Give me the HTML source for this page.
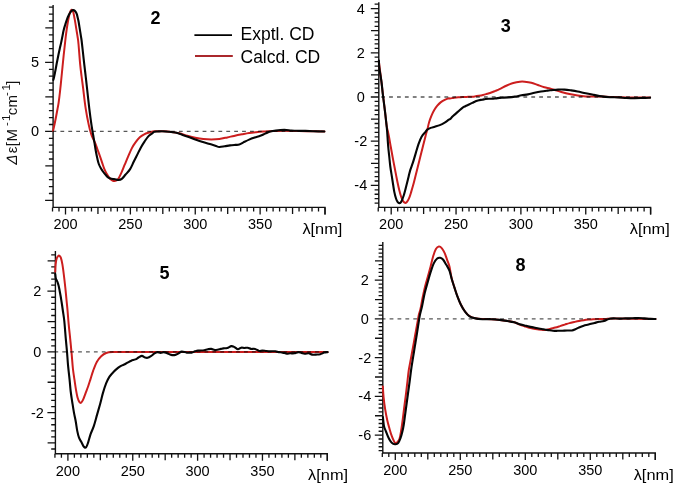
<!DOCTYPE html>
<html><head><meta charset="utf-8"><style>
html,body{margin:0;padding:0;background:#fff;}
svg{display:block;} text{-webkit-font-smoothing:antialiased;}
.t{font-family:"Liberation Sans", sans-serif;font-size:14.5px;fill:#000;}
.b{font-family:"Liberation Sans", sans-serif;font-size:18px;font-weight:bold;fill:#000;}
.l{font-family:"Liberation Sans", sans-serif;font-size:17.5px;fill:#000;}
.y{font-family:"Liberation Sans", sans-serif;font-size:15px;fill:#111;}
</style></head><body>
<svg width="675" height="485" viewBox="0 0 675 485" style="will-change:transform">
<rect width="675" height="485" fill="#fff"/>
<path d="M53.1 4.9V207.4H325V214.4" fill="none" stroke="#111" stroke-width="1.4"/>
<path d="M45.1 200.4H53.1M48.9 193.5H53.1M48.9 186.6H53.1M48.9 179.7H53.1M48.9 172.8H53.1M45.3 165.9H53.1M48.9 159H53.1M48.9 152.1H53.1M48.9 145.2H53.1M48.9 138.3H53.1M45.1 131.4H53.1M48.9 124.5H53.1M48.9 117.6H53.1M48.9 110.7H53.1M48.9 103.8H53.1M45.3 96.9H53.1M48.9 90H53.1M48.9 83.1H53.1M48.9 76.2H53.1M48.9 69.3H53.1M45.1 62.4H53.1M48.9 55.5H53.1M48.9 48.6H53.1M48.9 41.7H53.1M48.9 34.8H53.1M45.3 27.9H53.1M48.9 21H53.1M48.9 14.1H53.1M48.9 7.2H53.1M52.52 207.4V211.4M59.01 207.4V211.4M65.5 207.4V214.4M71.99 207.4V211.4M78.47 207.4V211.4M84.96 207.4V211.4M91.45 207.4V211.4M97.94 207.4V213.9M104.43 207.4V211.4M110.91 207.4V211.4M117.4 207.4V211.4M123.89 207.4V211.4M130.38 207.4V214.4M136.86 207.4V211.4M143.35 207.4V211.4M149.84 207.4V211.4M156.32 207.4V211.4M162.81 207.4V213.9M169.3 207.4V211.4M175.79 207.4V211.4M182.28 207.4V211.4M188.76 207.4V211.4M195.25 207.4V214.4M201.74 207.4V211.4M208.23 207.4V211.4M214.71 207.4V211.4M221.2 207.4V211.4M227.69 207.4V213.9M234.18 207.4V211.4M240.66 207.4V211.4M247.15 207.4V211.4M253.64 207.4V211.4M260.12 207.4V214.4M266.61 207.4V211.4M273.1 207.4V211.4M279.59 207.4V211.4M286.08 207.4V211.4M292.56 207.4V213.9M299.05 207.4V211.4M305.54 207.4V211.4M312.02 207.4V211.4M318.51 207.4V211.4M325 207.4V214.4" fill="none" stroke="#111" stroke-width="1.3"/>
<text x="35.1" y="136.3" text-anchor="middle" class="t">0</text>
<text x="35.1" y="67.3" text-anchor="middle" class="t">5</text>
<text x="65.5" y="229.4" text-anchor="middle" class="t">200</text>
<text x="130.38" y="229.4" text-anchor="middle" class="t">250</text>
<text x="195.25" y="229.4" text-anchor="middle" class="t">300</text>
<text x="260.12" y="229.4" text-anchor="middle" class="t">350</text>
<text x="302.4" y="233.9" class="t" textLength="40" lengthAdjust="spacingAndGlyphs">λ[nm]</text>
<text x="155.4" y="23.8" text-anchor="middle" class="b">2</text>
<path d="M378.8 2.2V207.4H650.6V214.4" fill="none" stroke="#111" stroke-width="1.4"/>
<path d="M374.6 203.08H378.8M374.6 198.66H378.8M374.6 194.24H378.8M374.6 189.82H378.8M370.8 185.4H378.8M374.6 180.98H378.8M374.6 176.56H378.8M374.6 172.14H378.8M374.6 167.72H378.8M371 163.3H378.8M374.6 158.88H378.8M374.6 154.46H378.8M374.6 150.04H378.8M374.6 145.62H378.8M370.8 141.2H378.8M374.6 136.78H378.8M374.6 132.36H378.8M374.6 127.94H378.8M374.6 123.52H378.8M371 119.1H378.8M374.6 114.68H378.8M374.6 110.26H378.8M374.6 105.84H378.8M374.6 101.42H378.8M370.8 97H378.8M374.6 92.58H378.8M374.6 88.16H378.8M374.6 83.74H378.8M374.6 79.32H378.8M371 74.9H378.8M374.6 70.48H378.8M374.6 66.06H378.8M374.6 61.64H378.8M374.6 57.22H378.8M370.8 52.8H378.8M374.6 48.38H378.8M374.6 43.96H378.8M374.6 39.54H378.8M374.6 35.12H378.8M371 30.7H378.8M374.6 26.28H378.8M374.6 21.86H378.8M374.6 17.44H378.8M374.6 13.02H378.8M370.8 8.6H378.8M374.6 4.18H378.8M378.23 207.4V211.4M384.71 207.4V211.4M391.2 207.4V214.4M397.69 207.4V211.4M404.17 207.4V211.4M410.65 207.4V211.4M417.14 207.4V211.4M423.62 207.4V213.9M430.11 207.4V211.4M436.59 207.4V211.4M443.08 207.4V211.4M449.56 207.4V211.4M456.05 207.4V214.4M462.53 207.4V211.4M469.02 207.4V211.4M475.5 207.4V211.4M481.99 207.4V211.4M488.47 207.4V213.9M494.96 207.4V211.4M501.44 207.4V211.4M507.93 207.4V211.4M514.41 207.4V211.4M520.9 207.4V214.4M527.38 207.4V211.4M533.87 207.4V211.4M540.36 207.4V211.4M546.84 207.4V211.4M553.33 207.4V213.9M559.81 207.4V211.4M566.29 207.4V211.4M572.78 207.4V211.4M579.26 207.4V211.4M585.75 207.4V214.4M592.24 207.4V211.4M598.72 207.4V211.4M605.2 207.4V211.4M611.69 207.4V211.4M618.17 207.4V213.9M624.66 207.4V211.4M631.14 207.4V211.4M637.63 207.4V211.4M644.12 207.4V211.4M650.6 207.4V214.4" fill="none" stroke="#111" stroke-width="1.3"/>
<text x="360.8" y="190.3" text-anchor="middle" class="t">-4</text>
<text x="360.8" y="146.1" text-anchor="middle" class="t">-2</text>
<text x="360.8" y="101.9" text-anchor="middle" class="t">0</text>
<text x="360.8" y="57.7" text-anchor="middle" class="t">2</text>
<text x="360.8" y="13.5" text-anchor="middle" class="t">4</text>
<text x="391.2" y="229.4" text-anchor="middle" class="t">200</text>
<text x="456.05" y="229.4" text-anchor="middle" class="t">250</text>
<text x="520.9" y="229.4" text-anchor="middle" class="t">300</text>
<text x="585.75" y="229.4" text-anchor="middle" class="t">350</text>
<text x="629.8" y="233.9" class="t" textLength="40" lengthAdjust="spacingAndGlyphs">λ[nm]</text>
<text x="505.7" y="31.6" text-anchor="middle" class="b">3</text>
<path d="M55.4 251.1V453.8H327.3V460.8" fill="none" stroke="#111" stroke-width="1.4"/>
<path d="M51.2 449.02H55.4M47.6 442.95H55.4M51.2 436.88H55.4M51.2 430.81H55.4M51.2 424.74H55.4M51.2 418.67H55.4M47.4 412.6H55.4M51.2 406.53H55.4M51.2 400.46H55.4M51.2 394.39H55.4M51.2 388.32H55.4M47.6 382.25H55.4M51.2 376.18H55.4M51.2 370.11H55.4M51.2 364.04H55.4M51.2 357.97H55.4M47.4 351.9H55.4M51.2 345.83H55.4M51.2 339.76H55.4M51.2 333.69H55.4M51.2 327.62H55.4M47.6 321.55H55.4M51.2 315.48H55.4M51.2 309.41H55.4M51.2 303.34H55.4M51.2 297.27H55.4M47.4 291.2H55.4M51.2 285.13H55.4M51.2 279.06H55.4M51.2 272.99H55.4M51.2 266.92H55.4M47.6 260.85H55.4M51.2 254.78H55.4M54.93 453.8V457.8M61.42 453.8V457.8M67.9 453.8V460.8M74.39 453.8V457.8M80.87 453.8V457.8M87.36 453.8V457.8M93.84 453.8V457.8M100.33 453.8V460.3M106.81 453.8V457.8M113.3 453.8V457.8M119.78 453.8V457.8M126.27 453.8V457.8M132.75 453.8V460.8M139.24 453.8V457.8M145.72 453.8V457.8M152.2 453.8V457.8M158.69 453.8V457.8M165.18 453.8V460.3M171.66 453.8V457.8M178.14 453.8V457.8M184.63 453.8V457.8M191.12 453.8V457.8M197.6 453.8V460.8M204.09 453.8V457.8M210.57 453.8V457.8M217.06 453.8V457.8M223.54 453.8V457.8M230.03 453.8V460.3M236.51 453.8V457.8M243 453.8V457.8M249.48 453.8V457.8M255.97 453.8V457.8M262.45 453.8V460.8M268.94 453.8V457.8M275.42 453.8V457.8M281.9 453.8V457.8M288.39 453.8V457.8M294.88 453.8V460.3M301.36 453.8V457.8M307.85 453.8V457.8M314.33 453.8V457.8M320.81 453.8V457.8M327.3 453.8V460.8" fill="none" stroke="#111" stroke-width="1.3"/>
<text x="37.4" y="417.5" text-anchor="middle" class="t">-2</text>
<text x="37.4" y="356.8" text-anchor="middle" class="t">0</text>
<text x="37.4" y="296.1" text-anchor="middle" class="t">2</text>
<text x="67.9" y="475.8" text-anchor="middle" class="t">200</text>
<text x="132.75" y="475.8" text-anchor="middle" class="t">250</text>
<text x="197.6" y="475.8" text-anchor="middle" class="t">300</text>
<text x="262.45" y="475.8" text-anchor="middle" class="t">350</text>
<text x="308.1" y="480.3" class="t" textLength="40" lengthAdjust="spacingAndGlyphs">λ[nm]</text>
<text x="164.5" y="279.2" text-anchor="middle" class="b">5</text>
<path d="M382.8 241.9V453H655.3V460" fill="none" stroke="#111" stroke-width="1.4"/>
<path d="M378.6 450.62H382.8M378.6 446.74H382.8M378.6 442.87H382.8M378.6 438.99H382.8M374.8 435.12H382.8M378.6 431.25H382.8M378.6 427.37H382.8M378.6 423.5H382.8M378.6 419.62H382.8M375 415.75H382.8M378.6 411.88H382.8M378.6 408H382.8M378.6 404.13H382.8M378.6 400.25H382.8M374.8 396.38H382.8M378.6 392.51H382.8M378.6 388.63H382.8M378.6 384.76H382.8M378.6 380.88H382.8M375 377.01H382.8M378.6 373.14H382.8M378.6 369.26H382.8M378.6 365.39H382.8M378.6 361.51H382.8M374.8 357.64H382.8M378.6 353.77H382.8M378.6 349.89H382.8M378.6 346.02H382.8M378.6 342.14H382.8M375 338.27H382.8M378.6 334.4H382.8M378.6 330.52H382.8M378.6 326.65H382.8M378.6 322.77H382.8M374.8 318.9H382.8M378.6 315.03H382.8M378.6 311.15H382.8M378.6 307.28H382.8M378.6 303.4H382.8M375 299.53H382.8M378.6 295.66H382.8M378.6 291.78H382.8M378.6 287.91H382.8M378.6 284.03H382.8M374.8 280.16H382.8M378.6 276.29H382.8M378.6 272.41H382.8M378.6 268.54H382.8M378.6 264.66H382.8M375 260.79H382.8M378.6 256.92H382.8M378.6 253.04H382.8M378.6 249.17H382.8M378.6 245.29H382.8M382.3 453V457M388.8 453V457M395.3 453V460M401.8 453V457M408.3 453V457M414.8 453V457M421.3 453V457M427.8 453V459.5M434.3 453V457M440.8 453V457M447.3 453V457M453.8 453V457M460.3 453V460M466.8 453V457M473.3 453V457M479.8 453V457M486.3 453V457M492.8 453V459.5M499.3 453V457M505.8 453V457M512.3 453V457M518.8 453V457M525.3 453V460M531.8 453V457M538.3 453V457M544.8 453V457M551.3 453V457M557.8 453V459.5M564.3 453V457M570.8 453V457M577.3 453V457M583.8 453V457M590.3 453V460M596.8 453V457M603.3 453V457M609.8 453V457M616.3 453V457M622.8 453V459.5M629.3 453V457M635.8 453V457M642.3 453V457M648.8 453V457M655.3 453V460" fill="none" stroke="#111" stroke-width="1.3"/>
<text x="364.8" y="440.02" text-anchor="middle" class="t">-6</text>
<text x="364.8" y="401.28" text-anchor="middle" class="t">-4</text>
<text x="364.8" y="362.54" text-anchor="middle" class="t">-2</text>
<text x="364.8" y="323.8" text-anchor="middle" class="t">0</text>
<text x="364.8" y="285.06" text-anchor="middle" class="t">2</text>
<text x="395.3" y="475" text-anchor="middle" class="t">200</text>
<text x="460.3" y="475" text-anchor="middle" class="t">250</text>
<text x="525.3" y="475" text-anchor="middle" class="t">300</text>
<text x="590.3" y="475" text-anchor="middle" class="t">350</text>
<text x="633.7" y="479.5" class="t" textLength="40" lengthAdjust="spacingAndGlyphs">λ[nm]</text>
<text x="520.6" y="270.7" text-anchor="middle" class="b">8</text>
<path d="M53.1 130.8C53.35 129.67 54.08 126.47 54.6 124C55.12 121.53 55.72 118.5 56.2 116C56.68 113.5 57.1 111.18 57.5 109C57.9 106.82 58.2 105.65 58.6 102.9C59 100.15 59.45 96.48 59.9 92.5C60.35 88.52 60.87 83.25 61.3 79C61.73 74.75 62.12 70.83 62.5 67C62.88 63.17 63.23 59.5 63.6 56C63.97 52.5 64.35 49.17 64.7 46C65.05 42.83 65.38 39.67 65.7 37C66.02 34.33 66.28 32.25 66.6 30C66.92 27.75 67.27 25.5 67.6 23.5C67.93 21.5 68.27 19.62 68.6 18C68.93 16.38 69.27 14.97 69.6 13.8C69.93 12.63 70.27 11.67 70.6 11C70.93 10.33 71.23 9.85 71.6 9.8C71.97 9.75 72.47 10.08 72.8 10.7C73.13 11.32 73.33 12.33 73.6 13.5C73.87 14.67 74.12 16.18 74.4 17.7C74.68 19.22 75.02 20.95 75.3 22.6C75.58 24.25 75.83 25.95 76.1 27.6C76.37 29.25 76.63 30.85 76.9 32.5C77.17 34.15 77.43 35.58 77.7 37.5C77.97 39.42 78.08 39.47 78.5 44C78.92 48.53 79.68 59.28 80.2 64.7C80.72 70.12 81.12 72.62 81.6 76.5C82.08 80.38 82.42 82.65 83.1 88C83.78 93.35 84.75 102.42 85.7 108.6C86.65 114.78 87.87 120.8 88.8 125.1C89.73 129.4 90.55 132.08 91.3 134.4C92.05 136.72 92.62 137.47 93.3 139C93.98 140.53 94.68 141.8 95.4 143.6C96.12 145.4 96.85 147.72 97.6 149.8C98.35 151.88 99.13 153.92 99.9 156.1C100.67 158.28 101.45 160.73 102.2 162.9C102.95 165.07 103.55 167.12 104.4 169.1C105.25 171.08 106.35 173.18 107.3 174.8C108.25 176.42 109.17 177.8 110.1 178.8C111.03 179.8 112.05 180.47 112.9 180.8C113.75 181.13 114.35 181.05 115.2 180.8C116.05 180.55 117.02 180.53 118 179.3C118.98 178.07 119.98 175.83 121.1 173.4C122.22 170.97 123.5 167.58 124.7 164.7C125.9 161.82 127.1 158.87 128.3 156.1C129.5 153.33 130.7 150.38 131.9 148.1C133.1 145.82 134.18 144.2 135.5 142.4C136.82 140.6 138.35 138.63 139.8 137.3C141.25 135.97 142.75 135.17 144.2 134.4C145.65 133.63 147.07 133.18 148.5 132.7C149.93 132.22 151.67 131.73 152.8 131.5C153.93 131.27 153.55 131.33 155.3 131.3C157.05 131.27 160.63 131.2 163.3 131.3C165.97 131.4 168.63 131.57 171.3 131.9C173.97 132.23 176.63 132.67 179.3 133.3C181.97 133.93 184.63 134.97 187.3 135.7C189.97 136.43 192.63 137.15 195.3 137.7C197.97 138.25 200.63 138.72 203.3 139C205.97 139.28 208.63 139.4 211.3 139.4C213.97 139.4 216.63 139.33 219.3 139C221.97 138.67 224.85 137.92 227.3 137.4C229.75 136.88 231.55 136.42 234 135.9C236.45 135.38 239.48 134.78 242 134.3C244.52 133.82 246.75 133.35 249.1 133C251.45 132.65 253.77 132.43 256.1 132.2C258.43 131.97 260.75 131.77 263.1 131.6C265.45 131.43 267.85 131.32 270.2 131.2C272.55 131.08 273.68 130.95 277.2 130.9C280.72 130.85 286.6 130.85 291.3 130.9C296 130.95 299.88 131.1 305.4 131.2C310.92 131.3 321.23 131.45 324.4 131.5" fill="none" stroke="#cc1e1e" stroke-width="2.0" stroke-linejoin="round" stroke-linecap="round"/>
<path d="M53.3 80C53.45 79.42 53.83 78.17 54.2 76.5C54.57 74.83 55.1 72.08 55.5 70C55.9 67.92 56.27 65.75 56.6 64C56.93 62.25 57.18 61.08 57.5 59.5C57.82 57.92 58.12 56.33 58.5 54.5C58.88 52.67 59.35 50.52 59.8 48.5C60.25 46.48 60.75 44.48 61.2 42.4C61.65 40.32 62.08 38.07 62.5 36C62.92 33.93 63.23 31.92 63.7 30C64.17 28.08 64.77 26.25 65.3 24.5C65.83 22.75 66.32 21.08 66.9 19.5C67.48 17.92 68.17 16.28 68.8 15C69.43 13.72 70.1 12.6 70.7 11.8C71.3 11 71.85 10.47 72.4 10.2C72.95 9.93 73.45 9.92 74 10.2C74.55 10.48 75.22 11.2 75.7 11.9C76.18 12.6 76.57 13.43 76.9 14.4C77.23 15.37 77.42 16.47 77.7 17.7C77.98 18.93 78.32 20.3 78.6 21.8C78.88 23.3 79.13 25.05 79.4 26.7C79.67 28.35 79.93 30.05 80.2 31.7C80.47 33.35 80.77 35.13 81 36.6C81.23 38.07 81.28 37.93 81.6 40.5C81.92 43.07 82.45 47.97 82.9 52C83.35 56.03 83.83 60.62 84.3 64.7C84.77 68.78 85.25 72.62 85.7 76.5C86.15 80.38 86.4 82.65 87 88C87.6 93.35 88.55 102.42 89.3 108.6C90.05 114.78 90.85 120.67 91.5 125.1C92.15 129.53 92.68 132.12 93.2 135.2C93.72 138.28 94.15 140.88 94.6 143.6C95.05 146.32 95.45 149.05 95.9 151.5C96.35 153.95 96.82 156.22 97.3 158.3C97.78 160.38 98.18 162.3 98.8 164C99.42 165.7 100.25 167.17 101 168.5C101.75 169.83 102.53 170.95 103.3 172C104.07 173.05 104.75 173.87 105.6 174.8C106.45 175.73 107.37 176.93 108.4 177.6C109.43 178.27 110.67 178.52 111.8 178.8C112.93 179.08 114.08 179.1 115.2 179.3C116.32 179.5 117.4 180.07 118.5 180C119.6 179.93 120.65 179.77 121.8 178.9C122.95 178.03 124.02 176.43 125.4 174.8C126.78 173.17 128.72 171.27 130.1 169.1C131.48 166.93 132.5 164.22 133.7 161.8C134.9 159.38 136.1 157 137.3 154.6C138.5 152.2 139.7 149.57 140.9 147.4C142.1 145.23 143.3 143.4 144.5 141.6C145.7 139.8 146.88 137.92 148.1 136.6C149.32 135.28 150.77 134.5 151.8 133.7C152.83 132.9 153.27 132.17 154.3 131.8C155.33 131.43 156.72 131.58 158 131.5C159.28 131.42 160.22 131.27 162 131.3C163.78 131.33 166.48 131.48 168.7 131.7C170.92 131.92 173.08 132.1 175.3 132.6C177.52 133.1 179.77 133.97 182 134.7C184.23 135.43 186.48 136.22 188.7 137C190.92 137.78 193.08 138.62 195.3 139.4C197.52 140.18 199.77 140.98 202 141.7C204.23 142.42 206.48 143.03 208.7 143.7C210.92 144.37 213.53 145.15 215.3 145.7C217.07 146.25 217.73 146.9 219.3 147C220.87 147.1 222.92 146.57 224.7 146.3C226.48 146.03 228.23 145.63 230 145.4C231.77 145.17 233.77 145.03 235.3 144.9C236.83 144.77 237.85 145.02 239.2 144.6C240.55 144.18 241.75 143.23 243.4 142.4C245.05 141.57 247.22 140.42 249.1 139.6C250.98 138.78 252.83 138.13 254.7 137.5C256.57 136.87 258.53 136.45 260.3 135.8C262.07 135.15 263.65 134.3 265.3 133.6C266.95 132.9 268.45 132.12 270.2 131.6C271.95 131.08 273.45 130.78 275.8 130.5C278.15 130.22 281.72 129.9 284.3 129.9C286.88 129.9 288.97 130.35 291.3 130.5C293.63 130.65 295.95 130.73 298.3 130.8C300.65 130.87 302.82 130.83 305.4 130.9C307.98 130.97 310.63 131.1 313.8 131.2C316.97 131.3 322.63 131.45 324.4 131.5" fill="none" stroke="#050505" stroke-width="2.1" stroke-linejoin="round" stroke-linecap="round"/>
<path d="M378.9 61.5C379.28 64.58 380.52 74.42 381.2 80C381.88 85.58 382.37 89.75 383 95C383.63 100.25 384.38 106.33 385 111.5C385.62 116.67 386.22 122.67 386.7 126C387.18 129.33 387.47 129.42 387.9 131.5C388.33 133.58 388.83 136 389.3 138.5C389.77 141 390.13 143.33 390.7 146.5C391.27 149.67 392.02 153.83 392.7 157.5C393.38 161.17 394.25 165.65 394.8 168.5C395.35 171.35 395.53 172.22 396 174.6C396.47 176.98 397.05 180.18 397.6 182.8C398.15 185.42 398.75 188.1 399.3 190.3C399.85 192.5 400.35 194.35 400.9 196C401.45 197.65 401.98 199.1 402.6 200.2C403.22 201.3 403.98 202.2 404.6 202.6C405.22 203 405.75 202.93 406.3 202.6C406.85 202.27 407.35 201.55 407.9 200.6C408.45 199.65 409.05 198.35 409.6 196.9C410.15 195.45 410.65 193.7 411.2 191.9C411.75 190.1 412.43 187.75 412.9 186.1C413.37 184.45 413.57 183.68 414 182C414.43 180.32 414.92 178.33 415.5 176C416.08 173.67 416.83 170.67 417.5 168C418.17 165.33 418.83 162.67 419.5 160C420.17 157.33 420.92 154.33 421.5 152C422.08 149.67 422.45 148.17 423 146C423.55 143.83 424.25 141.17 424.8 139C425.35 136.83 425.83 134.75 426.3 133C426.77 131.25 427.13 130.3 427.6 128.5C428.07 126.7 428.45 124.35 429.1 122.2C429.75 120.05 430.62 117.67 431.5 115.6C432.38 113.53 433.43 111.45 434.4 109.8C435.37 108.15 436.27 106.93 437.3 105.7C438.33 104.47 439.37 103.37 440.6 102.4C441.83 101.43 443.32 100.6 444.7 99.9C446.08 99.2 448.02 98.43 448.9 98.2C449.78 97.97 449.13 98.58 450 98.5C450.87 98.42 452.72 97.92 454.1 97.7C455.48 97.48 456.92 97.3 458.3 97.2C459.68 97.1 461.03 97.15 462.4 97.1C463.77 97.05 465.13 96.97 466.5 96.9C467.87 96.83 469.22 96.78 470.6 96.7C471.98 96.62 473.42 96.55 474.8 96.4C476.18 96.25 477.53 96.03 478.9 95.8C480.27 95.57 481.63 95.33 483 95C484.37 94.67 485.72 94.22 487.1 93.8C488.48 93.38 489.92 92.98 491.3 92.5C492.68 92.02 494.03 91.45 495.4 90.9C496.77 90.35 497.6 90.1 499.5 89.2C501.4 88.3 504.5 86.53 506.8 85.5C509.1 84.47 511.12 83.63 513.3 83C515.48 82.37 518 81.92 519.9 81.7C521.8 81.48 522.8 81.53 524.7 81.7C526.6 81.87 529.12 82.15 531.3 82.7C533.48 83.25 535.63 84.25 537.8 85C539.97 85.75 542.28 86.62 544.3 87.2C546.32 87.78 548.15 88.03 549.9 88.5C551.65 88.97 552.9 89.42 554.8 90C556.7 90.58 558.87 91.32 561.3 92C563.73 92.68 566.68 93.5 569.4 94.1C572.12 94.7 574.88 95.22 577.6 95.6C580.32 95.98 582.98 96.23 585.7 96.4C588.42 96.57 591.18 96.57 593.9 96.6C596.62 96.63 599.28 96.55 602 96.6C604.72 96.65 606.12 96.77 610.2 96.9C614.28 97.03 619.85 97.32 626.5 97.4C633.15 97.48 646.17 97.4 650.1 97.4" fill="none" stroke="#cc1e1e" stroke-width="2.0" stroke-linejoin="round" stroke-linecap="round"/>
<path d="M378.9 60.5C378.97 61.68 378.87 64.02 379.3 67.6C379.73 71.18 380.9 77.43 381.5 82C382.1 86.57 382.32 90.08 382.9 95C383.48 99.92 384.4 106.5 385 111.5C385.6 116.5 386.15 121.75 386.5 125C386.85 128.25 386.82 127.42 387.1 131C387.38 134.58 387.83 142.17 388.2 146.5C388.57 150.83 388.95 153.67 389.3 157C389.65 160.33 389.88 163.3 390.3 166.5C390.72 169.7 391.33 173.2 391.8 176.2C392.27 179.2 392.68 181.88 393.1 184.5C393.52 187.12 393.82 189.57 394.3 191.9C394.78 194.23 395.45 196.85 396 198.5C396.55 200.15 397.05 201.03 397.6 201.8C398.15 202.57 398.75 203.03 399.3 203.1C399.85 203.17 400.43 202.75 400.9 202.2C401.37 201.65 401.62 200.97 402.1 199.8C402.58 198.63 403.25 196.93 403.8 195.2C404.35 193.47 404.85 191.47 405.4 189.4C405.95 187.33 406.55 185 407.1 182.8C407.65 180.6 408.15 178.4 408.7 176.2C409.25 174 409.7 171.85 410.4 169.6C411.1 167.35 412.02 165.4 412.9 162.7C413.78 160 414.77 156.5 415.7 153.4C416.63 150.3 417.52 146.88 418.5 144.1C419.48 141.32 420.47 138.7 421.6 136.7C422.73 134.7 424.4 133.25 425.3 132.1C426.2 130.95 426.1 130.5 427 129.8C427.9 129.1 429.4 128.42 430.7 127.9C432 127.38 433.28 127.17 434.8 126.7C436.32 126.23 438.15 125.78 439.8 125.1C441.45 124.42 443.18 123.5 444.7 122.6C446.22 121.7 447.95 120.32 448.9 119.7C449.85 119.08 449.8 119.43 450.4 118.9C451 118.37 451.6 117.38 452.5 116.5C453.4 115.62 454.7 114.57 455.8 113.6C456.9 112.63 458 111.67 459.1 110.7C460.2 109.73 461.37 108.55 462.4 107.8C463.43 107.05 464.2 106.75 465.3 106.2C466.4 105.65 467.83 105.05 469 104.5C470.17 103.95 471.2 103.45 472.3 102.9C473.4 102.35 474.5 101.65 475.6 101.2C476.7 100.75 477.8 100.45 478.9 100.2C480 99.95 481.1 99.9 482.2 99.7C483.3 99.5 484.4 99.17 485.5 99C486.6 98.83 487.7 98.75 488.8 98.7C489.9 98.65 491 98.75 492.1 98.7C493.2 98.65 494.17 98.53 495.4 98.4C496.63 98.27 498.42 98.02 499.5 97.9C500.58 97.78 500.42 97.78 501.9 97.7C503.38 97.62 506.22 97.58 508.4 97.4C510.58 97.22 512.82 96.95 515 96.6C517.18 96.25 519.33 95.67 521.5 95.3C523.67 94.93 525.83 94.82 528 94.4C530.17 93.98 532.33 93.28 534.5 92.8C536.67 92.32 538.82 91.87 541 91.5C543.18 91.13 545.85 90.82 547.6 90.6C549.35 90.38 549.77 90.37 551.5 90.2C553.23 90.03 555.82 89.7 558 89.6C560.18 89.5 562.42 89.47 564.6 89.6C566.78 89.73 568.93 90.08 571.1 90.4C573.27 90.72 575.17 91.02 577.6 91.5C580.03 91.98 582.98 92.73 585.7 93.3C588.42 93.87 591.18 94.38 593.9 94.9C596.62 95.42 599.28 96.02 602 96.4C604.72 96.78 607.48 97.03 610.2 97.2C612.92 97.37 615.58 97.27 618.3 97.4C621.02 97.53 623.78 97.87 626.5 98C629.22 98.13 631.88 98.2 634.6 98.2C637.32 98.2 640.22 98.08 642.8 98C645.38 97.92 648.88 97.75 650.1 97.7" fill="none" stroke="#050505" stroke-width="2.1" stroke-linejoin="round" stroke-linecap="round"/>
<path d="M55.2 271.6C55.27 270.4 55.37 266.55 55.6 264.4C55.83 262.25 56.18 260.08 56.6 258.7C57.02 257.32 57.62 256.58 58.1 256.1C58.58 255.62 59.03 255.5 59.5 255.8C59.97 256.1 60.42 256.47 60.9 257.9C61.38 259.33 61.92 261.63 62.4 264.4C62.88 267.17 63.32 270.65 63.8 274.5C64.28 278.35 64.82 282.92 65.3 287.5C65.78 292.08 66.33 298.25 66.7 302C67.07 305.75 67.17 306.27 67.5 310C67.83 313.73 68.25 319.58 68.7 324.4C69.15 329.22 69.72 334.08 70.2 338.9C70.68 343.72 71.15 348.37 71.6 353.3C72.05 358.23 72.42 364.07 72.9 368.5C73.38 372.93 73.98 376.35 74.5 379.9C75.02 383.45 75.47 386.77 76 389.8C76.53 392.83 77.12 396.03 77.7 398.1C78.28 400.17 78.93 401.43 79.5 402.2C80.07 402.97 80.5 403.12 81.1 402.7C81.7 402.28 82.35 401.3 83.1 399.7C83.85 398.1 84.77 395.3 85.6 393.1C86.43 390.9 87.28 388.83 88.1 386.5C88.92 384.17 89.65 381.75 90.5 379.1C91.35 376.45 92.15 373.47 93.2 370.6C94.25 367.73 95.47 364.3 96.8 361.9C98.13 359.5 99.63 357.68 101.2 356.2C102.77 354.72 104.28 353.68 106.2 353C108.12 352.32 109.68 352.25 112.7 352.1C115.72 351.95 109.75 352.11 124.3 352.1C138.85 352.09 166.12 352.07 200 352.05C233.88 352.03 306.33 352.01 327.6 352" fill="none" stroke="#cc1e1e" stroke-width="2.0" stroke-linejoin="round" stroke-linecap="round"/>
<path d="M55.2 274C55.28 274.67 55.47 276.95 55.7 278C55.93 279.05 56.28 279.58 56.6 280.3C56.92 281.02 57.25 281.35 57.6 282.3C57.95 283.25 58.37 284.63 58.7 286C59.03 287.37 59.27 288.75 59.6 290.5C59.93 292.25 60.32 294.25 60.7 296.5C61.08 298.75 61.53 301.58 61.9 304C62.27 306.42 62.5 308.17 62.9 311C63.3 313.83 63.82 316.35 64.3 321C64.78 325.65 65.35 333.77 65.8 338.9C66.25 344.03 66.63 347.48 67 351.8C67.37 356.12 67.57 360.12 68 364.8C68.43 369.48 69.15 375.45 69.6 379.9C70.05 384.35 70.23 387.65 70.7 391.5C71.17 395.35 71.85 399.43 72.4 403C72.95 406.57 73.45 409.87 74 412.9C74.55 415.93 75.15 418.17 75.7 421.2C76.25 424.23 76.75 428.35 77.3 431.1C77.85 433.85 78.3 435.83 79 437.7C79.7 439.57 80.68 440.78 81.5 442.3C82.32 443.82 83.13 445.97 83.9 446.8C84.67 447.63 85.4 448 86.1 447.3C86.8 446.6 87.37 444.75 88.1 442.6C88.83 440.45 89.55 437.15 90.5 434.4C91.45 431.65 92.7 429.4 93.8 426.1C94.9 422.8 96 418.45 97.1 414.6C98.2 410.75 99.43 406.58 100.4 403C101.37 399.42 101.93 396.4 102.9 393.1C103.87 389.8 105.1 385.95 106.2 383.2C107.3 380.45 108.25 378.52 109.5 376.6C110.75 374.68 112.23 373.2 113.7 371.7C115.17 370.2 117 368.62 118.3 367.6C119.6 366.58 120.42 366.15 121.5 365.6C122.58 365.05 123.72 364.83 124.8 364.3C125.88 363.77 126.92 363 128 362.4C129.08 361.8 130.07 361.2 131.3 360.7C132.53 360.2 134.18 359.93 135.4 359.4C136.62 358.87 137.52 358.08 138.6 357.5C139.68 356.92 140.82 355.9 141.9 355.9C142.98 355.9 144.15 357.18 145.1 357.5C146.05 357.82 146.63 358.02 147.6 357.8C148.57 357.58 149.82 356.88 150.9 356.2C151.98 355.52 153.02 354.38 154.1 353.7C155.18 353.02 156.32 352.23 157.4 352.1C158.48 351.97 159.52 352.9 160.6 352.9C161.68 352.9 162.8 352.03 163.9 352.1C165 352.17 165.98 352.83 167.2 353.3C168.42 353.77 169.85 354.63 171.2 354.9C172.55 355.17 174.07 355.17 175.3 354.9C176.53 354.63 177.52 353.85 178.6 353.3C179.68 352.75 180.45 351.72 181.8 351.6C183.15 351.48 185.07 352.43 186.7 352.6C188.33 352.77 190.23 352.82 191.6 352.6C192.97 352.38 193.82 351.65 194.9 351.3C195.98 350.95 196.75 350.63 198.1 350.5C199.45 350.37 201.37 350.7 203 350.5C204.63 350.3 206.53 349.57 207.9 349.3C209.27 349.03 209.85 348.78 211.2 348.9C212.55 349.02 214.38 350 216 350C217.62 350 219.68 349.17 220.9 348.9C222.12 348.63 222.23 348.55 223.3 348.4C224.37 348.25 225.95 348.38 227.3 348C228.65 347.62 230.17 346.23 231.4 346.1C232.63 345.97 233.62 346.67 234.7 347.2C235.78 347.73 236.82 349.22 237.9 349.3C238.98 349.38 240.12 347.92 241.2 347.7C242.28 347.48 243.32 348 244.4 348C245.48 348 246.6 347.55 247.7 347.7C248.8 347.85 249.78 348.7 251 348.9C252.22 349.1 253.65 348.55 255 348.9C256.35 349.25 257.87 350.73 259.1 351C260.33 351.27 261.18 350.5 262.4 350.5C263.62 350.5 265.05 350.87 266.4 351C267.75 351.13 269 351.25 270.5 351.3C272 351.35 274.03 351.17 275.4 351.3C276.77 351.43 277.48 351.88 278.7 352.1C279.92 352.32 281.35 352.33 282.7 352.6C284.05 352.87 285.57 353.58 286.8 353.7C288.03 353.82 288.87 353.37 290.1 353.3C291.33 353.23 292.85 353.5 294.2 353.3C295.55 353.1 296.98 352.17 298.2 352.1C299.42 352.03 300.42 352.63 301.5 352.9C302.58 353.17 303.48 353.63 304.7 353.7C305.92 353.77 307.57 353.15 308.8 353.3C310.03 353.45 310.87 354.38 312.1 354.6C313.33 354.82 314.85 354.67 316.2 354.6C317.55 354.53 318.85 354.53 320.2 354.2C321.55 353.87 323.07 352.95 324.3 352.6C325.53 352.25 327.05 352.18 327.6 352.1" fill="none" stroke="#050505" stroke-width="2.1" stroke-linejoin="round" stroke-linecap="round"/>
<path d="M382.8 386.5C382.93 388.3 383.22 393.57 383.6 397.3C383.98 401.03 384.5 405.12 385.1 408.9C385.7 412.68 386.47 416.7 387.2 420C387.93 423.3 388.73 426 389.5 428.7C390.27 431.4 391.03 434.08 391.8 436.2C392.57 438.32 393.48 440.25 394.1 441.4C394.72 442.55 394.93 443.02 395.5 443.1C396.07 443.18 396.82 442.67 397.5 441.9C398.18 441.13 399.02 440.23 399.6 438.5C400.18 436.77 400.6 433.75 401 431.5C401.4 429.25 401.6 427.92 402 425C402.4 422.08 402.93 417.67 403.4 414C403.87 410.33 404.33 406.67 404.8 403C405.27 399.33 405.75 395.67 406.2 392C406.65 388.33 407.07 384.67 407.5 381C407.93 377.33 408.27 373.55 408.8 370C409.33 366.45 409.98 363.58 410.7 359.7C411.42 355.82 412.32 351.02 413.1 346.7C413.88 342.38 414.67 337.88 415.4 333.8C416.13 329.72 416.93 325.33 417.5 322.2C418.07 319.07 418.32 317.15 418.8 315C419.28 312.85 419.77 312.17 420.4 309.3C421.03 306.43 421.81 301.65 422.6 297.8C423.39 293.95 424.26 289.78 425.15 286.2C426.04 282.62 427.04 279.6 427.95 276.3C428.86 273 429.74 269.7 430.6 266.4C431.46 263.1 432.22 259.38 433.1 256.5C433.98 253.62 434.93 250.75 435.9 249.1C436.87 247.45 437.9 246.73 438.9 246.6C439.9 246.47 440.93 247.2 441.9 248.3C442.87 249.4 443.83 251.28 444.7 253.2C445.57 255.12 446.31 257.6 447.1 259.8C447.89 262 448.73 263.45 449.46 266.4C450.19 269.35 450.7 274.1 451.49 277.5C452.28 280.9 453.26 283.8 454.2 286.8C455.13 289.8 456.02 292.6 457.1 295.5C458.18 298.4 459.38 301.53 460.7 304.2C462.02 306.87 463.53 309.53 465 311.5C466.47 313.47 467.78 314.88 469.5 316C471.22 317.12 473.13 317.7 475.3 318.2C477.47 318.7 479.85 318.83 482.5 319C485.15 319.17 488.32 319.05 491.2 319.2C494.08 319.35 497.17 319.62 499.8 319.9C502.43 320.18 504.47 320.47 507 320.9C509.53 321.33 512.88 321.88 515 322.5C517.12 323.12 518.12 323.97 519.7 324.6C521.28 325.23 522.92 325.77 524.5 326.3C526.08 326.83 527.62 327.4 529.2 327.8C530.78 328.2 532.42 328.42 534 328.7C535.58 328.98 537.13 329.3 538.7 329.5C540.27 329.7 542.02 329.87 543.4 329.9C544.78 329.93 545.8 329.9 547 329.7C548.2 329.5 549.22 329.07 550.6 328.7C551.98 328.33 553.73 327.93 555.3 327.5C556.87 327.07 558.42 326.58 560 326.1C561.58 325.62 563.22 325.1 564.8 324.6C566.38 324.1 567.92 323.53 569.5 323.1C571.08 322.67 572.72 322.35 574.3 322C575.88 321.65 577.43 321.3 579 321C580.57 320.7 582.12 320.43 583.7 320.2C585.28 319.97 586.92 319.77 588.5 319.6C590.08 319.43 591.42 319.3 593.2 319.2C594.98 319.1 597.02 319.05 599.2 319C601.38 318.95 603.93 318.97 606.3 318.9C608.67 318.83 605.2 318.6 613.4 318.6C621.6 318.6 648.48 318.85 655.5 318.9" fill="none" stroke="#cc1e1e" stroke-width="2.0" stroke-linejoin="round" stroke-linecap="round"/>
<path d="M382.9 417C383.08 418.53 383.48 423.78 384 426.2C384.52 428.62 385.28 429.65 386 431.5C386.72 433.35 387.53 435.65 388.3 437.3C389.07 438.95 389.83 440.33 390.6 441.4C391.37 442.47 392.08 443.23 392.9 443.7C393.72 444.17 394.63 444.3 395.5 444.2C396.37 444.1 397.28 444.05 398.1 443.1C398.92 442.15 399.68 440.43 400.4 438.5C401.12 436.57 401.85 433.75 402.4 431.5C402.95 429.25 403.23 427.92 403.7 425C404.17 422.08 404.7 417.67 405.2 414C405.7 410.33 406.2 406.67 406.7 403C407.2 399.33 407.7 395.67 408.2 392C408.7 388.33 409.22 384.67 409.7 381C410.18 377.33 410.6 373.55 411.1 370C411.6 366.45 412.08 363.58 412.7 359.7C413.32 355.82 414.1 351.02 414.8 346.7C415.5 342.38 416.25 337.88 416.9 333.8C417.55 329.72 418.2 325.33 418.7 322.2C419.2 319.07 419.33 317.7 419.9 315C420.47 312.3 421.29 309.7 422.1 306C422.91 302.3 423.79 296.92 424.77 292.8C425.75 288.68 426.98 284.73 427.95 281.3C428.92 277.87 429.61 275.23 430.6 272.2C431.59 269.17 432.8 265.38 433.9 263.1C435 260.82 436.15 259.38 437.2 258.5C438.25 257.62 439.23 257.63 440.2 257.8C441.17 257.97 441.98 258.33 443 259.5C444.02 260.67 445.21 262.92 446.3 264.8C447.39 266.68 448.65 268.47 449.54 270.8C450.43 273.13 450.83 276.03 451.64 278.8C452.45 281.57 453.46 284.52 454.4 287.4C455.34 290.28 456.22 293.22 457.3 296.1C458.38 298.98 459.58 302.07 460.9 304.7C462.22 307.33 463.77 309.97 465.2 311.9C466.63 313.83 467.82 315.22 469.5 316.3C471.18 317.38 473.13 317.92 475.3 318.4C477.47 318.88 479.85 319.07 482.5 319.2C485.15 319.33 488.32 319.08 491.2 319.2C494.08 319.32 497.17 319.62 499.8 319.9C502.43 320.18 504.58 320.5 507 320.9C509.42 321.3 512.18 321.75 514.3 322.3C516.42 322.85 518 323.68 519.7 324.2C521.4 324.72 522.92 325 524.5 325.4C526.08 325.8 527.62 326.25 529.2 326.6C530.78 326.95 532.42 327.18 534 327.5C535.58 327.82 537.13 328.2 538.7 328.5C540.27 328.8 541.82 329.03 543.4 329.3C544.98 329.57 546.62 329.85 548.2 330.1C549.78 330.35 551.32 330.68 552.9 330.8C554.48 330.92 556.12 330.82 557.7 330.8C559.28 330.78 560.83 330.75 562.4 330.7C563.97 330.65 565.52 330.53 567.1 330.5C568.68 330.47 570.52 330.7 571.9 330.5C573.28 330.3 574.22 329.8 575.4 329.3C576.58 328.8 577.62 328.1 579 327.5C580.38 326.9 582.12 326.18 583.7 325.7C585.28 325.22 586.7 325.05 588.5 324.6C590.3 324.15 592.72 323.47 594.5 323C596.28 322.53 597.62 322.13 599.2 321.8C600.78 321.47 602.42 321.47 604 321C605.58 320.53 607.13 319.45 608.7 319C610.27 318.55 611.62 318.37 613.4 318.3C615.18 318.23 617.42 318.58 619.4 318.6C621.38 318.62 623.13 318.45 625.3 318.4C627.47 318.35 630.23 318.37 632.4 318.3C634.57 318.23 636.32 317.98 638.3 318C640.28 318.02 642.32 318.25 644.3 318.4C646.28 318.55 648.33 318.8 650.2 318.9C652.07 319 654.62 318.98 655.5 319" fill="none" stroke="#050505" stroke-width="2.1" stroke-linejoin="round" stroke-linecap="round"/>
<line x1="53.1" y1="131.4" x2="325" y2="131.4" stroke="#000" stroke-opacity="0.66" stroke-width="1.3" stroke-dasharray="3.8 4.1" stroke-dashoffset="0.6"/>
<line x1="378.8" y1="97" x2="650.6" y2="97" stroke="#000" stroke-opacity="0.66" stroke-width="1.3" stroke-dasharray="3.8 4.1" stroke-dashoffset="5.5"/>
<line x1="55.4" y1="351.9" x2="327.3" y2="351.9" stroke="#000" stroke-opacity="0.66" stroke-width="1.3" stroke-dasharray="3.8 4.1" stroke-dashoffset="1.0"/>
<line x1="382.8" y1="318.9" x2="655.3" y2="318.9" stroke="#000" stroke-opacity="0.66" stroke-width="1.3" stroke-dasharray="3.8 4.1" stroke-dashoffset="1.1"/>
<line x1="194.4" y1="35.1" x2="232" y2="35.1" stroke="#000" stroke-width="1.9"/>
<line x1="195" y1="56" x2="232.8" y2="56" stroke="#aa282c" stroke-width="1.9"/>
<text x="240.5" y="39.6" class="l">Exptl. CD</text>
<text x="240.5" y="63.1" class="l">Calcd. CD</text>
<text transform="translate(16.8 165.6) rotate(-90) translate(0.0 0) skewX(-14)" class="y">Δ</text><text transform="translate(16.8 165.6) rotate(-90)" class="y"><tspan x="12.3" y="0">ε</tspan><tspan x="19.3" y="0">[</tspan><tspan x="24.2" y="0">M</tspan><tspan x="39.5" y="-7" font-size="11.5">-</tspan><tspan x="44.7" y="-7" font-size="11.5">1</tspan><tspan x="50.3" y="0">c</tspan><tspan x="58.1" y="0">m</tspan><tspan x="69.5" y="-7" font-size="11.5">-</tspan><tspan x="75.1" y="-7" font-size="11.5">1</tspan><tspan x="80.8" y="0">]</tspan></text>
</svg></body></html>
